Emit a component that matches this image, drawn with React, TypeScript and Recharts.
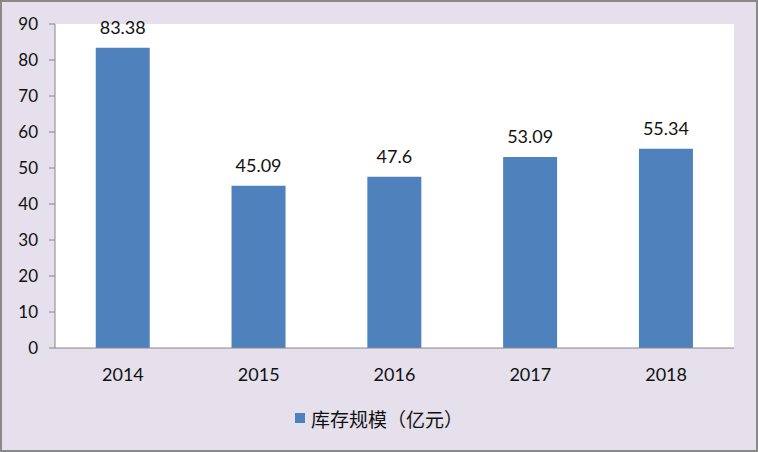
import React from 'react';
import {
  BarChart,
  Bar,
  XAxis,
  YAxis,
  CartesianGrid,
  LabelList,
  Legend,
} from 'recharts';

const years = ['2014', '2015', '2016', '2017', '2018'];
const stockValues = [83.38, 45.09, 47.6, 53.09, 55.34];
const yTicks = [0, 10, 20, 30, 40, 50, 60, 70, 80, 90];
const boundaryTicks = [0, 1, 2, 3, 4, 5];
const seriesName = '库存规模（亿元）';

const data = years.map((year, i) => ({ year, value: stockValues[i] }));

const AXIS = '#868686';
const BAR = '#4f81bd';
const FONT = 'Lato, "Liberation Sans", sans-serif';

function LegendContent() {
  return (
    <div
      style={{
        width: 754,
        height: 26,
        display: 'flex',
        alignItems: 'center',
        justifyContent: 'center',
        fontFamily: '"Noto Sans CJK SC", sans-serif',
        fontSize: 19,
        color: '#111',
      }}
    >
      <span style={{ width: 10, height: 10, background: BAR, marginRight: 6, display: 'inline-block' }} />
      <span>{seriesName}</span>
    </div>
  );
}

export default function App() {
  return (
    <div
      style={{
        position: 'absolute',
        left: 0,
        top: 0,
        width: 758,
        height: 452,
        boxSizing: 'border-box',
        border: '2px solid #898989',
        background: '#e5e0ec',
      }}
    >
      <BarChart
        width={754}
        height={448}
        data={data}
        margin={{ top: 22, right: 22, bottom: 41, left: 0 }}
        barCategoryGap="30%"
      >
        <CartesianGrid horizontal={false} vertical={false} fill="#ffffff" stroke="none" />
        {/* category boundary ticks, drawn on a numeric axis */}
        <XAxis
          xAxisId={0}
          type="number"
          domain={[0, 5]}
          ticks={boundaryTicks}
          height={1}
          axisLine={{ stroke: AXIS }}
          tick={false}
          tickLine={{ stroke: AXIS }}
          tickSize={6}
        />
        <XAxis
          xAxisId={1}
          dataKey="year"
          height={60}
          axisLine={false}
          tickLine={false}
          tickSize={0}
          tickMargin={19}
          tick={{ fill: '#111', fontSize: 18, fontFamily: FONT }}
          interval={0}
        />
        <YAxis
          width={53}
          domain={[0, 90]}
          ticks={yTicks}
          interval={0}
          axisLine={{ stroke: AXIS }}
          tickLine={{ stroke: AXIS }}
          tickSize={6}
          tickMargin={11}
          tick={{ fill: '#111', fontSize: 17, fontFamily: FONT }}
        />
        <Legend
          verticalAlign="middle"
          wrapperStyle={{ top: 403, left: 0, width: 754 }}
          content={() => <LegendContent />}
        />
        <Bar xAxisId={1} dataKey="value" name={seriesName} fill={BAR} isAnimationActive={false}>
          <LabelList
            dataKey="value"
            position="top"
            offset={14}
            style={{ fill: '#111', fontSize: 18, fontFamily: FONT }}
          />
        </Bar>
      </BarChart>
    </div>
  );
}
